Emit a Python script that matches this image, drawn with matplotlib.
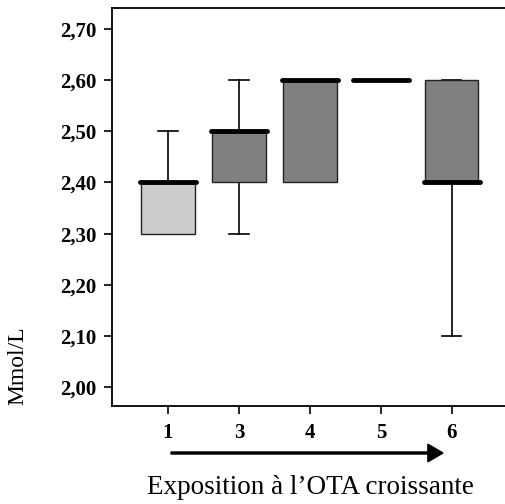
import matplotlib
matplotlib.use('Agg')
import matplotlib.pyplot as plt

# groupes d'exposition et stats des boites (Mmol/L)
groups = ['1', '3', '4', '5', '6']
q1 = [2.30, 2.40, 2.40, 2.60, 2.40]
med = [2.40, 2.50, 2.60, 2.60, 2.40]
q3 = [2.40, 2.50, 2.60, 2.60, 2.60]
whislo = [2.30, 2.30, 2.40, 2.60, 2.10]
whishi = [2.50, 2.60, 2.60, 2.60, 2.60]
box_colors = ['#cccccc', '#808080', '#808080', '#808080', '#808080']
yticks = [2.00, 2.10, 2.20, 2.30, 2.40, 2.50, 2.60, 2.70]

plt.rcParams['font.family'] = ['Liberation Serif', 'DejaVu Serif']

fig = plt.figure(figsize=(5.05, 5.04), dpi=100)
ax = fig.add_axes([112 / 505, 1 - 406 / 504, 1 - 112 / 505, (406 - 8) / 504])

stats = []
for i in range(len(groups)):
    stats.append({'label': groups[i], 'q1': q1[i], 'med': med[i], 'q3': q3[i],
                  'whislo': whislo[i], 'whishi': whishi[i], 'fliers': []})

bp = ax.bxp(stats, positions=range(len(groups)), widths=0.75, patch_artist=True,
            showfliers=False, capwidths=0.27,
            boxprops=dict(edgecolor='#222222', linewidth=1.0),
            whiskerprops=dict(color='black', linewidth=1.2),
            capprops=dict(color='black', linewidth=1.2),
            medianprops=dict(color='black', linewidth=3.5, solid_capstyle='round'))
for patch, c in zip(bp['boxes'], box_colors):
    patch.set_facecolor(c)
    patch.set_zorder(3)
for cap in bp['caps']:
    cap.set_zorder(2)
for m in bp['medians']:
    x = m.get_xdata()
    m.set_xdata([x[0] - 0.02, x[1] + 0.02])
    m.set_zorder(5)

ax.set_xlim(-0.79, 4.75)
ax.set_ylim(1.963, 2.741)
ax.set_yticks(yticks)
ax.set_yticklabels([('%.2f' % v).replace('.', ',') for v in yticks])
ax.tick_params(axis='both', direction='out', length=6, width=1.2, labelsize=15)
ax.tick_params(axis='y', pad=5)
ax.tick_params(axis='x', pad=6)
for lab in ax.get_xticklabels() + ax.get_yticklabels():
    lab.set_fontweight('bold')
ax.spines['right'].set_visible(False)
for s in ['left', 'bottom', 'top']:
    ax.spines[s].set_linewidth(1.3)

fig.text(18 / 505, 1 - 366 / 504, 'Mmol/L', fontsize=17, rotation=90,
         ha='center', va='center')

# fleche d'exposition croissante
fig.patches.append(matplotlib.patches.FancyArrow(
    171 / 505, 1 - 453 / 504, (443 - 171) / 505 - 0.03, 0, width=0.004,
    head_width=0.035, head_length=0.03, length_includes_head=False,
    color='black', transform=fig.transFigure, figure=fig))

fig.text(310 / 505, 1 - 488 / 504, 'Exposition à l\u2019OTA croissante', fontsize=19.5,
         ha='center', va='center')

fig.savefig('out.png', dpi=100)
